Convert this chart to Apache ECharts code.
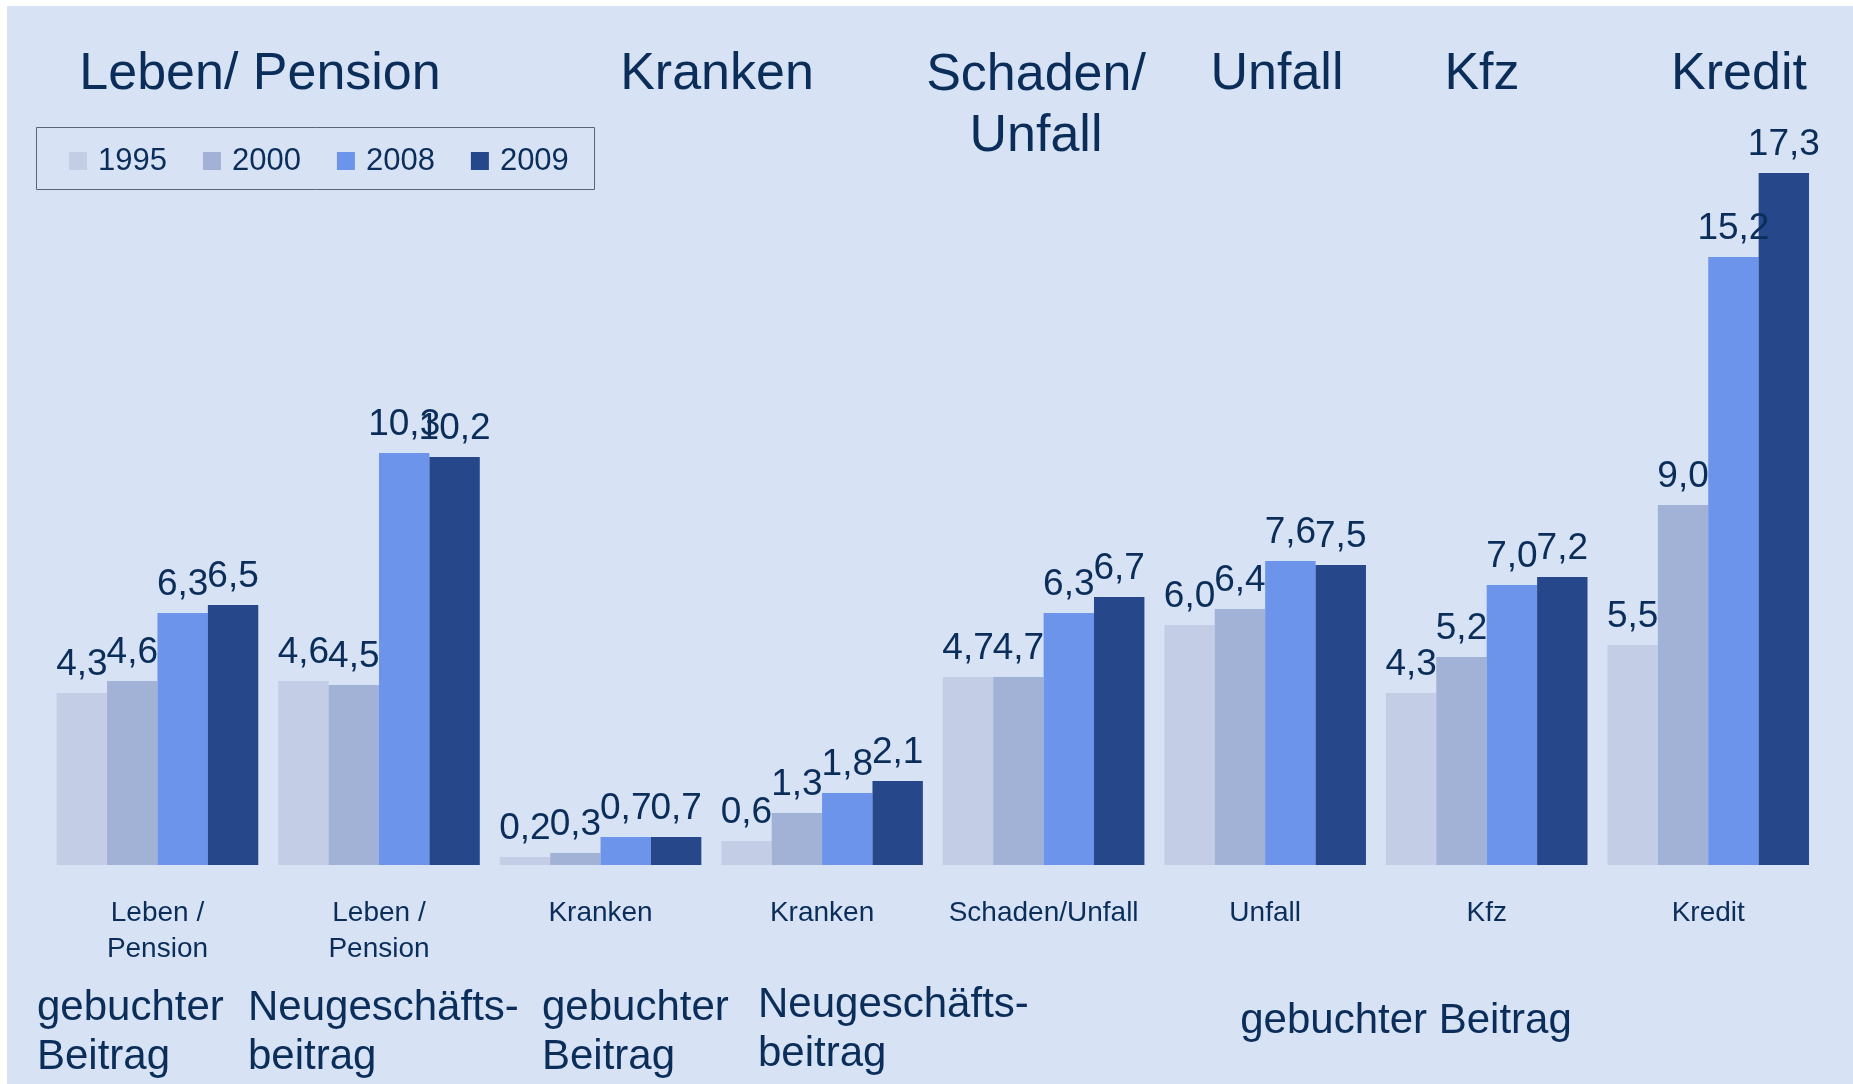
<!DOCTYPE html>
<html>
<head>
<meta charset="utf-8">
<script src="https://cdn.jsdelivr.net/npm/echarts@6/dist/echarts.min.js"></script>
<style>
  html, body { margin: 0; padding: 0; background: #fff; }
  #chart { width: 1853px; height: 1084px; }
</style>
</head>
<body>
<div id="chart"></div>
<script>
// Kategorien (x-Achse)
const categories = ['Leben /\nPension', 'Leben /\nPension', 'Kranken', 'Kranken', 'Schaden/Unfall', 'Unfall', 'Kfz', 'Kredit']
const years = ['1995', '2000', '2008', '2009']
// Werte je Jahr
const v1995 = [4.3, 4.6, 0.2, 0.6, 4.7, 6.0, 4.3, 5.5]
const v2000 = [4.6, 4.5, 0.3, 1.3, 4.7, 6.4, 5.2, 9.0]
const v2008 = [6.3, 10.3, 0.7, 1.8, 6.3, 7.6, 7.0, 15.2]
const v2009 = [6.5, 10.2, 0.7, 2.1, 6.7, 7.5, 7.2, 17.3]
const colors = ['#c3cee6', '#a2b2d6', '#6c94ea', '#26478a']

const FONT = '"Liberation Sans", Arial, sans-serif'
const TEXT = '#0a2d5a'

const chart = echarts.init(document.getElementById('chart'))

function barSeries(name, data, color) {
  return {
    name: name,
    type: 'bar',
    data: data,
    barGap: '0%',
    barCategoryGap: '9%',
    itemStyle: { color: color },
    label: {
      show: true,
      position: 'top',
      distance: 10,
      color: TEXT,
      fontSize: 37,
      fontFamily: FONT,
      formatter: p => p.value.toFixed(1).replace('.', ',')
    }
  }
}

function txt(x, y, text, size, align) {
  return {
    type: 'text',
    x: x, y: y,
    style: {
      text: text,
      fill: TEXT,
      font: size + 'px ' + FONT,
      textAlign: align || 'center',
      textVerticalAlign: 'middle',
      lineHeight: Math.round(size * 1.17)
    }
  }
}

const option = {
  backgroundColor: '#d7e2f4',
  animation: false,
  grid: { left: 46.7, right: 34, top: 65, bottom: 219 },
  legend: {
    data: years,
    left: 69,
    top: 145,
    padding: 0,
    itemWidth: 18,
    itemHeight: 18,
    itemGap: 36,
    icon: 'rect',
    textStyle: { color: TEXT, fontSize: 31, fontFamily: FONT, lineHeight: 32, padding: [0, 0, 0, 6] }
  },
  xAxis: {
    type: 'category',
    data: categories,
    axisLine: { show: false },
    axisTick: { show: false },
    axisLabel: {
      interval: 0,
      margin: 30,
      color: TEXT,
      fontSize: 28,
      fontFamily: FONT,
      lineHeight: 36
    }
  },
  yAxis: {
    type: 'value',
    min: 0,
    max: 20,
    show: false,
    splitLine: { show: false }
  },
  series: [
    barSeries('1995', v1995, colors[0]),
    barSeries('2000', v2000, colors[1]),
    barSeries('2008', v2008, colors[2]),
    barSeries('2009', v2009, colors[3])
  ],
  graphic: [
    // weisser Rand oben/links
    { type: 'rect', shape: { x: 0, y: 0, width: 1853, height: 6 }, style: { fill: '#fff' } },
    { type: 'rect', shape: { x: 0, y: 0, width: 7, height: 1084 }, style: { fill: '#fff' } },
    // Legendenrahmen
    { type: 'rect', shape: { x: 36.5, y: 127.5, width: 558, height: 62 }, style: { fill: 'none', stroke: '#5c6373', lineWidth: 1 } },
    // Überschriften
    txt(260, 75, 'Leben/ Pension', 52),
    txt(717, 75, 'Kranken', 52),
    txt(1036, 106, 'Schaden/\nUnfall', 52),
    txt(1277, 75, 'Unfall', 52),
    txt(1482, 75, 'Kfz', 52),
    txt(1739, 75, 'Kredit', 52),
    // untere Beschriftung
    txt(37, 1033, 'gebuchter\nBeitrag', 42, 'left'),
    txt(248, 1033, 'Neugeschäfts-\nbeitrag', 42, 'left'),
    txt(542, 1033, 'gebuchter\nBeitrag', 42, 'left'),
    txt(758, 1030, 'Neugeschäfts-\nbeitrag', 42, 'left'),
    txt(1406, 1021, 'gebuchter Beitrag', 42)
  ]
}

chart.setOption(option)
</script>
</body>
</html>
